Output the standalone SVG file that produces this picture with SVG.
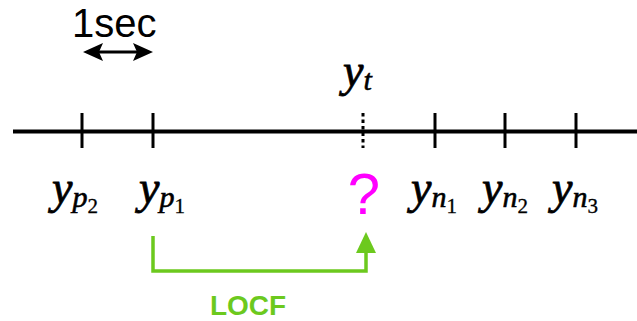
<svg xmlns="http://www.w3.org/2000/svg" width="637" height="321" viewBox="0 0 637 321">
<style>
.ax{stroke:#000;stroke-width:4;fill:none}
.tk{stroke:#000;stroke-width:3;fill:none}
.m{font-family:"Liberation Serif","Times New Roman",serif;font-style:italic;font-size:46px;fill:#000;stroke:#000;stroke-width:0.8}
.s{font-size:30px;stroke-width:0.6}
.ss{font-size:21px;font-style:normal;stroke-width:0.3}
.g{stroke:#6cc91e;stroke-width:3.5;fill:none}
</style>
<rect width="637" height="321" fill="#fff"/>
<g id="scale">
<text x="72" y="37" font-family="Liberation Sans,Arial,sans-serif" font-size="40">1sec</text>
<line x1="90" y1="52" x2="146" y2="52" stroke="#000" stroke-width="3"/>
<path d="M83,52 L103,43 L99,52 L103,61 z" fill="#000"/>
<path d="M153,52 L133,43 L137,52 L133,61 z" fill="#000"/>
</g>
<g id="axis">
<line class="ax" x1="13" y1="131.5" x2="637" y2="131.5"/>
</g>
<g id="p2"><line class="tk" x1="82" y1="113" x2="82" y2="148"/>
<text class="m" x="52" y="203">y<tspan class="s" dy="4">p</tspan><tspan class="ss" dy="6">2</tspan></text></g>
<g id="p1"><line class="tk" x1="153" y1="113" x2="153" y2="148"/>
<text class="m" x="139" y="203">y<tspan class="s" dy="4">p</tspan><tspan class="ss" dy="6">1</tspan></text></g>
<g id="t"><line class="tk" x1="363" y1="113" x2="363" y2="148" stroke-dasharray="3.5,3"/>
<text class="m" x="343" y="86">y<tspan class="s" dy="4">t</tspan></text>
<text x="364" y="214" text-anchor="middle" font-family="Liberation Sans,Arial,sans-serif" font-size="58" fill="#ff00ff">?</text></g>
<g id="n1"><line class="tk" x1="435" y1="113" x2="435" y2="148"/>
<text class="m" x="411" y="203">y<tspan class="s" dy="4">n</tspan><tspan class="ss" dy="6">1</tspan></text></g>
<g id="n2"><line class="tk" x1="505" y1="113" x2="505" y2="148"/>
<text class="m" x="482" y="203">y<tspan class="s" dy="4">n</tspan><tspan class="ss" dy="6">2</tspan></text></g>
<g id="n3"><line class="tk" x1="576" y1="113" x2="576" y2="148"/>
<text class="m" x="552" y="203">y<tspan class="s" dy="4">n</tspan><tspan class="ss" dy="6">3</tspan></text></g>
<g id="connectors">
<path class="g" d="M153,236 V271 H366 V250"/>
<path d="M366,232 L356,253 L376,253 z" fill="#6cc91e"/>
<text x="248" y="315" text-anchor="middle" font-family="Liberation Sans,Arial,sans-serif" font-weight="bold" font-size="28" fill="#6cc91e">LOCF</text>
</g>
</svg>
